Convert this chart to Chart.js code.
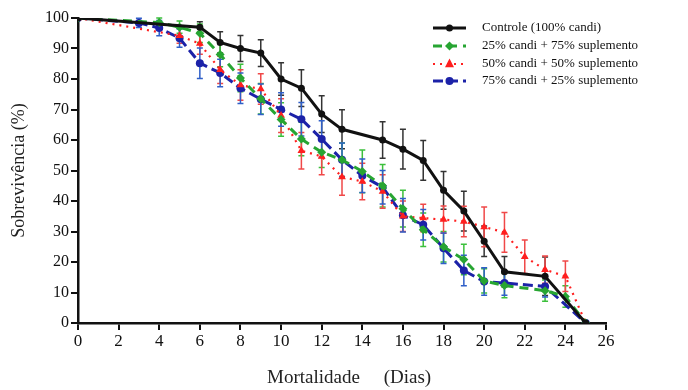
<!DOCTYPE html>
<html>
<head>
<meta charset="utf-8">
<script src="https://cdn.jsdelivr.net/npm/chart.js@4.4.1/dist/chart.umd.min.js"></script>
<style>
  html, body { margin: 0; padding: 0; background: #fff; }
  #wrap { width: 688px; height: 390px; }
</style>
</head>
<body>
<div id="wrap"><canvas id="chart"></canvas></div>
<script>
// Sobrevivência x dias
var seriesNames = ['Controle (100% candi)', '25% candi + 75% suplemento', '50% candi + 50% suplemento', '75% candi + 25% suplemento'];

var controlDays = [0, 6, 7, 8, 9, 10, 11, 12, 13, 15, 16, 17, 18, 19, 20, 21, 23, 25];
var controlVals = [100, 97, 92, 90, 88.5, 80, 77, 68.5, 63.5, 60, 57, 53.3, 43.5, 36.7, 26.8, 16.8, 15.3, 0];
var controlErr  = [0, 1.8, 3.5, 4.3, 4.4, 5.3, 6, 6, 6.4, 6, 6.5, 6.5, 6.2, 6.5, 5, 5, 6.3, 0];

var greenDays = [0, 4, 5, 6, 7, 8, 9, 10, 11, 12, 13, 14, 15, 16, 17, 18, 19, 20, 21, 23, 24, 25];
var greenVals = [100, 98.5, 97, 95, 88, 80.3, 73.5, 66.7, 60.3, 56, 53.5, 49.7, 45, 37.5, 30.6, 25, 20.8, 13.8, 12.3, 10.6, 8.7, 0];
var greenErr  = [0, 1.5, 2, 3, 4, 4.5, 5, 5.5, 5.5, 5, 5.5, 7, 7, 6, 5.5, 5, 5, 4, 4, 3.5, 3.5, 0];

var redDays = [0, 5, 6, 7, 8, 9, 10, 11, 12, 13, 14, 15, 16, 17, 18, 19, 20, 21, 22, 23, 24, 25];
var redVals = [100, 94.2, 91.6, 83, 78, 76.7, 68, 56.5, 54.6, 47.9, 46.4, 43.1, 35, 34.4, 33.9, 33.3, 31.5, 29.7, 21.7, 17.5, 15.3, 0];
var redErr  = [0, 2.5, 3.5, 4.5, 5, 5, 5.5, 6, 6, 6, 6, 5.5, 5, 4.5, 4.5, 5, 6.5, 6.5, 5.5, 4.5, 5, 0];

var blueDays = [0, 3, 4, 5, 6, 7, 8, 9, 10, 11, 12, 13, 14, 15, 16, 17, 18, 19, 20, 21, 23, 25];
var blueVals = [100, 98.4, 96.7, 93.4, 85.2, 82, 77, 73.4, 70, 66.8, 60.3, 53.5, 48.3, 44.5, 35.3, 32.2, 24.5, 17.2, 13.6, 13.1, 12, 0];
var blueErr  = [0, 1.5, 2.5, 3, 5, 4.5, 5, 5, 5.5, 5.5, 6, 5.5, 5.5, 5.5, 5.5, 5, 5, 5, 4.5, 4, 3.5, 0];

var xTicks = [0, 2, 4, 6, 8, 10, 12, 14, 16, 18, 20, 22, 24, 26];
var yTicks = [0, 10, 20, 30, 40, 50, 60, 70, 80, 90, 100];

var serif = '"Liberation Serif", "DejaVu Serif", serif';

function toPoints(days, vals) {
  return days.map(function(d, i) { return { x: d, y: vals[i] }; });
}

// barras de erro
var errorBars = {
  id: 'errorBars',
  beforeDatasetsDraw: function(chart) {
    var ctx = chart.ctx, xs = chart.scales.x, ys = chart.scales.y;
    chart.data.datasets.forEach(function(ds) {
      ctx.save();
      ctx.strokeStyle = ds.errorColor;
      ctx.lineWidth = 1.5;
      ctx.setLineDash([]);
      ds.data.forEach(function(p, j) {
        var e = ds.errors[j];
        if (!e) return;
        var x = xs.getPixelForValue(p.x);
        var y1 = ys.getPixelForValue(p.y + e);
        var y2 = ys.getPixelForValue(p.y - e);
        ctx.beginPath();
        ctx.moveTo(x, y1); ctx.lineTo(x, y2);
        ctx.moveTo(x - 3, y1); ctx.lineTo(x + 3, y1);
        ctx.moveTo(x - 3, y2); ctx.lineTo(x + 3, y2);
        ctx.stroke();
      });
      ctx.restore();
    });
  }
};

function drawMarker(ctx, style, x, y, r, color) {
  ctx.fillStyle = color;
  ctx.beginPath();
  if (style === 'triangle') {
    ctx.moveTo(x, y - r * 1.2);
    ctx.lineTo(x + r, y + r * 0.7);
    ctx.lineTo(x - r, y + r * 0.7);
  } else if (style === 'rectRot') {
    ctx.moveTo(x, y - r); ctx.lineTo(x + r, y); ctx.lineTo(x, y + r); ctx.lineTo(x - r, y);
  } else {
    ctx.arc(x, y, r, 0, Math.PI * 2);
  }
  ctx.closePath();
  ctx.fill();
}

// legenda dentro do gráfico
var insideLegend = {
  id: 'insideLegend',
  afterDraw: function(chart) {
    var ctx = chart.ctx;
    var rows = [28, 46, 64, 81];
    ctx.save();
    chart.data.datasets.forEach(function(ds, i) {
      var y = rows[i];
      ctx.strokeStyle = ds.borderColor;
      ctx.lineWidth = ds.borderWidth;
      ctx.setLineDash(ds.borderDash || []);
      ctx.beginPath();
      ctx.moveTo(433, y); ctx.lineTo(466, y);
      ctx.stroke();
      ctx.setLineDash([]);
      drawMarker(ctx, ds.pointStyle, 449.5, y, ds.pointRadius, ds.borderColor);
      ctx.fillStyle = '#111';
      ctx.font = '13px ' + serif;
      ctx.textBaseline = 'middle';
      ctx.textAlign = 'left';
      ctx.fillText(ds.label, 482, y);
    });
    ctx.restore();
  }
};

function makeSet(label, days, vals, errs, color, errColor, width, dash, style, radius) {
  return {
    label: label,
    data: toPoints(days, vals),
    errors: errs,
    errorColor: errColor,
    borderColor: color,
    backgroundColor: color,
    pointBackgroundColor: color,
    pointBorderColor: color,
    borderWidth: width,
    borderDash: dash,
    pointStyle: style,
    pointRadius: radius,
    pointBorderWidth: 0,
    tension: 0,
    fill: false
  };
}

new Chart(document.getElementById('chart').getContext('2d'), {
  type: 'line',
  data: {
    datasets: [
      makeSet(seriesNames[0], controlDays, controlVals, controlErr, '#111111', '#333333', 3, [], 'circle', 3.5),
      makeSet(seriesNames[1], greenDays, greenVals, greenErr, '#27a532', '#3cc03c', 3, [9, 6], 'rectRot', 4.5),
      makeSet(seriesNames[2], redDays, redVals, redErr, '#ff1f1f', '#f04848', 2.2, [2, 5], 'triangle', 4.5),
      makeSet(seriesNames[3], blueDays, blueVals, blueErr, '#1c22a8', '#2f5fc8', 3, [10, 5], 'circle', 4)
    ]
  },
  options: {
    responsive: true,
    maintainAspectRatio: false,
    animation: false,
    layout: { padding: { top: 18, right: 82, left: 0, bottom: 0 } },
    plugins: {
      legend: { display: false },
      tooltip: { enabled: false }
    },
    scales: {
      x: {
        type: 'linear',
        min: 0,
        max: 26,
        afterFit: function(scale) { scale.height = 67; },
        afterBuildTicks: function(scale) { scale.ticks = xTicks.map(function(v) { return { value: v }; }); },
        ticks: { color: '#111', font: { family: serif, size: 17 }, padding: 1, maxRotation: 0, autoSkip: false },
        grid: { drawOnChartArea: false, drawTicks: true, tickLength: 7, color: '#111', lineWidth: 2 },
        border: { display: true, color: '#111', width: 2.5 },
        title: {
          display: true,
          text: '\u00A0\u00A0\u00A0Mortalidade\u00A0\u00A0\u00A0\u00A0\u00A0(Dias)',
          color: '#222',
          font: { family: serif, size: 19 },
          padding: { top: 0, bottom: 1 }
        }
      },
      y: {
        min: 0,
        max: 100,
        afterFit: function(scale) { scale.width = 78; },
        afterBuildTicks: function(scale) { scale.ticks = yTicks.map(function(v) { return { value: v }; }); },
        ticks: { color: '#111', font: { family: serif, size: 16 }, padding: 2, autoSkip: false },
        grid: { drawOnChartArea: false, drawTicks: true, tickLength: 7, color: '#111', lineWidth: 2 },
        border: { display: true, color: '#111', width: 2.5 },
        title: {
          display: true,
          text: 'Sobrevivência (%)',
          color: '#222',
          font: { family: serif, size: 18 },
          padding: { top: 8, bottom: 0 }
        }
      }
    }
  },
  plugins: [errorBars, insideLegend]
});
</script>
</body>
</html>
